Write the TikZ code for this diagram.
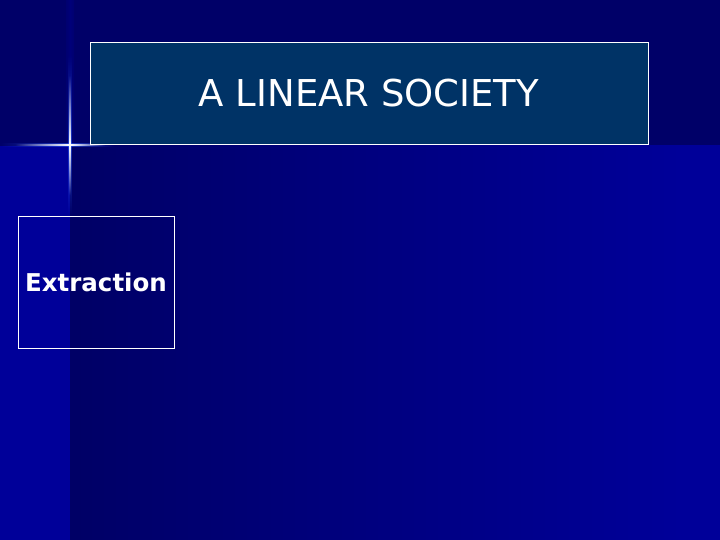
\documentclass[tikz,border=0pt]{standalone}
\usepackage{fontspec}
\setmainfont{DejaVu Sans}
\usetikzlibrary{fadings}
\definecolor{topbg}{HTML}{000068}
\definecolor{lowdark}{HTML}{00005E}
\definecolor{lowbright}{HTML}{000099}
\definecolor{titlefill}{HTML}{003366}
\definecolor{glowblue}{HTML}{3366FF}
\pgfdeclarehorizontalshading{lowgrad}{100bp}{color(0bp)=(lowdark); color(18bp)=(lowdark); color(72bp)=(lowbright); color(100bp)=(lowbright)}
\pgfdeclarehorizontalshading{stripe}{100bp}{color(0bp)=(topbg); color(50bp)=(lowbright); color(100bp)=(topbg)}
\tikzset{
  framebox/.style={draw=white, line width=0.9pt, inner sep=0pt, text=white},
  glowwide/.style={fill=glowblue, opacity=0.55},
  glowcore/.style={fill=white}
}
\begin{document}
\begin{tikzpicture}[x=1pt,y=-1pt]
\useasboundingbox (0,0) rectangle (720,540);
% background
\fill[topbg] (0,0) rectangle (720,146);
\fill[lowbright] (0,146) rectangle (70,540);
\shade[shading=lowgrad] (70,146) rectangle (720,540);
\shade[shading=stripe, opacity=0.35] (66,0) rectangle (74,146);
% star glow
\fill[glowwide, path fading=west] (0,143) rectangle (70,147);
\fill[glowwide, path fading=east] (70,143) rectangle (115,147);
\fill[glowwide, path fading=north] (68,55) rectangle (72,145);
\fill[glowwide, path fading=south] (68,145) rectangle (72,215);
\fill[glowcore, path fading=west] (15,144.3) rectangle (70,145.7);
\fill[glowcore, path fading=east] (70,144.3) rectangle (105,145.7);
\fill[glowcore, path fading=north] (69.3,75) rectangle (70.7,145);
\fill[glowcore, path fading=south] (69.3,145) rectangle (70.7,195);
% title box
\node[framebox, fill=titlefill, minimum width=558pt, minimum height=102pt,
      font=\fontsize{37}{40}\selectfont] (title) at (369,93) {A LINEAR SOCIETY};
% extraction box
\node[framebox, minimum width=156pt, minimum height=132pt,
      font=\fontsize{24.5}{28}\selectfont\bfseries] (extraction) at (96,282) {\raisebox{-1.5pt}{Extraction}};
\end{tikzpicture}
\end{document}
